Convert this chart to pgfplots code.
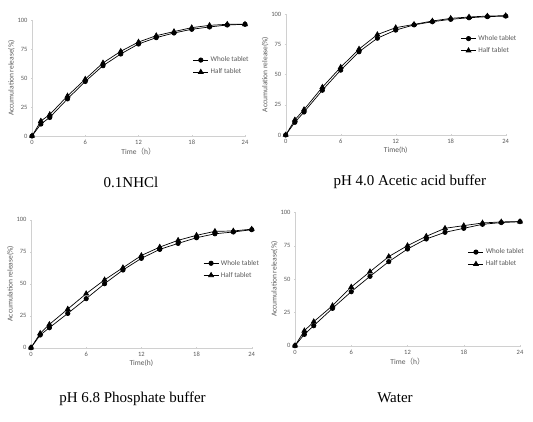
\documentclass[border=0pt]{standalone}
\usepackage{fontspec}
\setmainfont{Carlito}
\newfontfamily\capfont{Liberation Serif}
\newfontfamily\cjk{Noto Sans CJK SC}
\usepackage{pgfplots}
\pgfplotsset{compat=1.18}
\definecolor{txt}{HTML}{595959}
\definecolor{axl}{HTML}{D0D0D0}
\pgfplotsset{
 rel/.style={scale only axis, anchor=south west, xmin=0, xmax=24, ymin=0, ymax=100,
  xtick={0,6,12,18,24}, ytick={0,25,50,75,100},
  axis x line=bottom, axis y line=left, axis line style={draw=axl,-},
  tick style={draw=axl}, major tick length=2pt,
  tick label style={font=\fontsize{6.5}{7}\selectfont, text=txt},
  /pgf/number format/assume math mode=true,
  label style={font=\fontsize{7.5}{8}\selectfont, text=txt},
  ylabel={Accumulation release(\%)}, ylabel shift=-4pt,
  xlabel style={yshift=4pt},
  legend style={draw=none, fill=none, font=\fontsize{7.2}{8}\selectfont, text=txt, anchor=north west, row sep=1.5pt, inner sep=1pt},
  legend image code/.code={\draw[#1] (0pt,0pt) -- (7.5pt,0pt) -- (15pt,0pt); \draw[#1, only marks] plot coordinates {(7.5pt,0pt)};},
  legend cell align=left, clip=false},
 wh/.style={black, line width=0.7pt, mark=*, mark size=2.2pt},
 hf/.style={black, line width=0.7pt, mark=triangle*, mark size=2.8pt},
}
\begin{document}
\begin{tikzpicture}
\useasboundingbox (0pt,0pt) rectangle (533pt,421pt);
% Panel 1: 0.1NHCl
\begin{axis}[rel, at={(32pt,285pt)}, width=213pt, height=116pt,
  xlabel={Time{\cjk （}h{\cjk ）}}, legend style={at={(rel axis cs:0.75,0.71)}}]
\addplot[wh] coordinates {(0,0) (1,10.3) (2,16) (4,32) (6,47) (8,60.6) (10,70.7) (12,79.3) (14,84.8) (16,88.8) (18,92) (20,94) (22,95.7) (24,96.3)};
\addplot[hf] coordinates {(0,0) (1,12.9) (2,18.5) (4,34.5) (6,49) (8,63) (10,73) (12,81) (14,86.5) (16,90) (18,93.4) (20,95.4) (22,96.3) (24,96.3)};
\legend{Whole tablet, Half tablet}
\end{axis}
% Panel 2: pH 4.0
\begin{axis}[rel, at={(285.7pt,286pt)}, width=220pt, height=121pt,
  xlabel={Time(h)}, legend style={at={(rel axis cs:0.79,0.85)}}]
\addplot[wh] coordinates {(0,0) (1,10.5) (2,19) (4,37) (6,53.6) (8,68.8) (10,80) (12,86.7) (14,91) (16,93.6) (18,95.6) (20,96.9) (22,97.8) (24,98.3)};
\addplot[hf] coordinates {(0,0) (1,12.5) (2,21) (4,39.5) (6,56) (8,71) (10,83) (12,88.7) (14,91.4) (16,94.2) (18,96.4) (20,97.5) (22,98.3) (24,98.6)};
\legend{Whole tablet, Half tablet}
\end{axis}
% Panel 3: pH 6.8
\begin{axis}[rel, at={(31pt,73.3pt)}, width=220.7pt, height=128pt,
  xlabel={Time(h)}, legend style={at={(rel axis cs:0.775,0.71)}}]
\addplot[wh] coordinates {(0,0) (1,9.9) (2,15.6) (4,26.8) (6,38.3) (8,50) (10,60.7) (12,69.8) (14,76.8) (16,81.5) (18,85.9) (20,89) (22,90.4) (24,92.2)};
\addplot[hf] coordinates {(0,0) (1,11.2) (2,18.2) (4,30.2) (6,42.2) (8,53) (10,62.5) (12,72) (14,78.6) (16,83.9) (18,87.8) (20,90.9) (22,91.2) (24,92.6)};
\legend{Whole tablet, Half tablet}
\end{axis}
% Panel 4: Water
\begin{axis}[rel, at={(295pt,75.3pt)}, width=225pt, height=133.4pt,
  xlabel={Time{\cjk （}h{\cjk ）}}, legend style={at={(rel axis cs:0.764,0.75)}}]
\addplot[wh] coordinates {(0,0) (1,8.5) (2,15) (4,28) (6,40.5) (8,52) (10,63) (12,72.5) (14,80) (16,85) (18,88) (20,91) (22,92.3) (24,93)};
\addplot[hf] coordinates {(0,0) (1,11.2) (2,18) (4,30) (6,44) (8,55.5) (10,66.8) (12,75) (14,82) (16,88) (18,90) (20,92) (22,92.8) (24,93)};
\legend{Whole tablet, Half tablet}
\end{axis}
\node[font=\capfont\fontsize{15}{18}\selectfont] at (131pt,239pt) {0.1NHCl};
\node[font=\capfont\fontsize{15}{18}\selectfont] at (409.8pt,239pt) {pH 4.0 Acetic acid buffer};
\node[font=\capfont\fontsize{15}{18}\selectfont] at (132.5pt,22pt) {pH 6.8 Phosphate buffer};
\node[font=\capfont\fontsize{15}{18}\selectfont] at (395pt,23.3pt) {Water};
\end{tikzpicture}
\end{document}
